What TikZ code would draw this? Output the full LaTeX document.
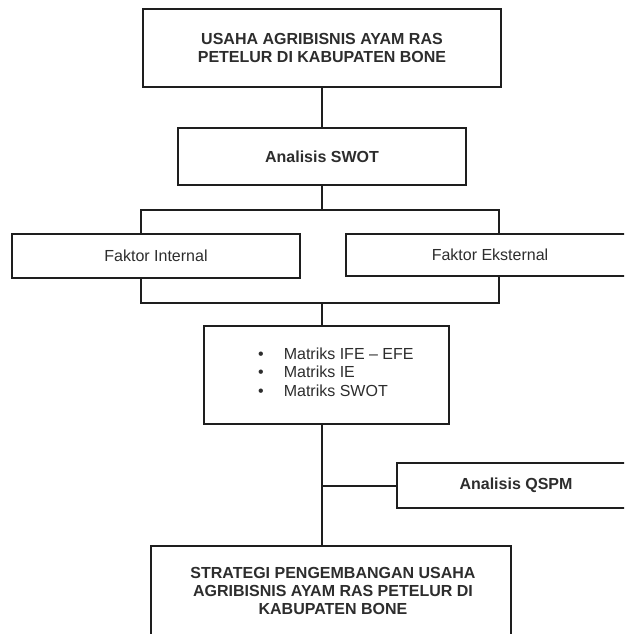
\documentclass[tikz,border=0pt]{standalone}
\usepackage{fontspec}
\setmainfont{Liberation Sans}

\definecolor{boxline}{RGB}{30,30,30}
\definecolor{boxtext}{RGB}{45,45,45}

\tikzset{
  flowbox/.style={draw=boxline, line width=2pt, fill=white, inner sep=0pt,
    text=boxtext, align=center, font=\fontsize{16}{17.5}\selectfont},
  flowbold/.style={flowbox, font=\fontsize{16}{17.5}\selectfont\bfseries},
  boxlabel/.style={inner sep=0pt, text=boxtext, align=center},
  link/.style={draw=boxline, line width=2pt},
}

\begin{document}
\begin{tikzpicture}[x=1pt, y=-1pt]

  \useasboundingbox (0,0) rectangle (624,634);
  \clip (0,0) rectangle (624,634);

  % corners of the bracket round the two factors
  \coordinate (brtl) at (141,210);
  \coordinate (brtr) at (499,210);
  \coordinate (brbl) at (141,303);
  \coordinate (brbr) at (499,303);

  % the boxes, top to bottom
  \node[flowbold, minimum width=358pt, minimum height=78pt] (usaha) at (322,48)
    {USAHA AGRIBISNIS AYAM RAS\\PETELUR DI KABUPATEN BONE};
  \node[flowbold, minimum width=288pt, minimum height=57pt] (swot) at (322,156.5)
    {Analisis SWOT};
  \node[flowbox, minimum width=288pt, minimum height=44pt] (internal) at (156,256)
    {Faktor Internal};
  \node[flowbox, minimum width=288pt, minimum height=42pt] (eksternal) at (490,255)
    {Faktor Eksternal};
  \node[flowbox, minimum width=245pt, minimum height=98pt] (matriks) at (326.5,375) {};
  \node[boxlabel, anchor=north west, font=\fontsize{16}{18.5}\selectfont]
    (matrikslist) at ([shift={(55,21)}]matriks.north west)
    {\begin{tabular}{@{}l@{\hspace{20pt}}l@{}}
      \textbullet & Matriks IFE -- EFE\\
      \textbullet & Matriks IE\\
      \textbullet & Matriks SWOT
    \end{tabular}};
  \node[flowbold, minimum width=238pt, minimum height=45pt] (qspm) at (516,485.5)
    {Analisis QSPM};
  \node[flowbox, minimum width=360pt, minimum height=110pt] (strategi) at (331,601) {};
  \node[boxlabel, anchor=north, font=\fontsize{16}{18}\selectfont\bfseries]
    (strategitext) at ([shift={(2,22)}]strategi.north)
    {STRATEGI PENGEMBANGAN USAHA\\AGRIBISNIS AYAM RAS PETELUR DI\\KABUPATEN BONE};

  % connectors
  \draw[link] (usaha.south) -- (swot.north);
  \draw[link] (swot.south) -- (swot.south |- brtl);
  \draw[link] (internal.north -| brtl) -- (brtl) -- (brtr) -- (eksternal.north -| brtr);
  \draw[link] (internal.south -| brbl) -- (brbl) -- (brbr) -- (eksternal.south -| brbr);
  \draw[link] (swot.south |- brbl) -- (swot.south |- matriks.north);
  \draw[link] (swot.south |- matriks.south) -- (swot.south |- strategi.north);
  \draw[link] (swot.south |- qspm.west) -- (qspm.west);

\end{tikzpicture}
\end{document}
